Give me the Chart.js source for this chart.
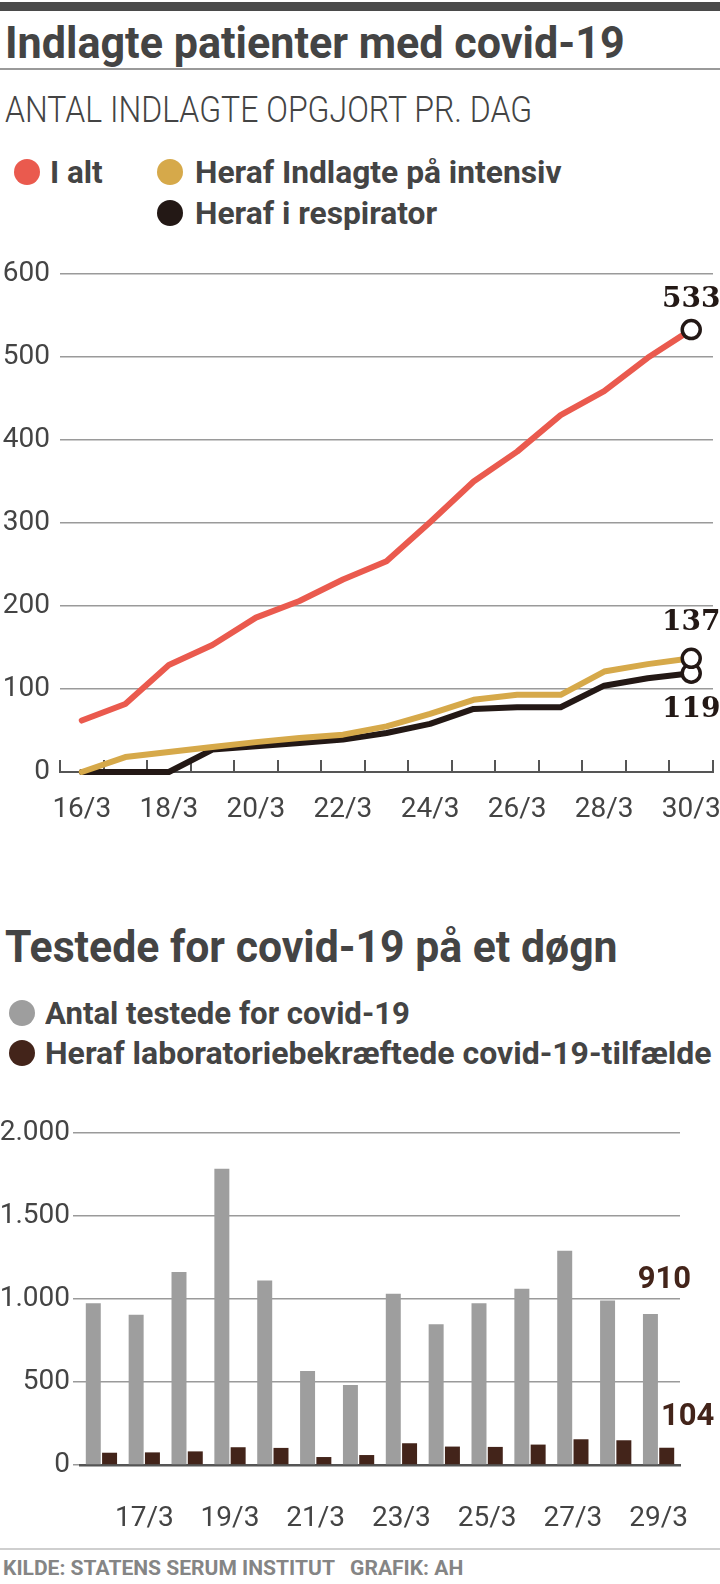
<!DOCTYPE html>
<html>
<head>
<meta charset="utf-8">
<style>
  * { margin: 0; padding: 0; box-sizing: border-box; }
  body {
    width: 720px; height: 1584px; background: #fff; position: relative; overflow: hidden;
    font-family: Roboto, 'DejaVu Sans', sans-serif; color: #444;
  }
  .abs { position: absolute; white-space: nowrap; line-height: 1; transform-origin: 0 50%; }
  .topbar { left: 0; top: 2px; width: 720px; height: 9px; background: #4a4a4a; }
  .title { left: 5px; font-weight: 700; font-size: 44px; }
  .rule { left: 0; width: 720px; height: 2px; background: #9a9a9a; }
  .sub { left: 5px; top: 91px; font-size: 37px; font-weight: 300; }
  .leg { font-weight: 700; font-size: 32px; }
  .dot { position: absolute; width: 26px; height: 26px; border-radius: 50%; }
  .foot { left: 3px; top: 1558px; font-size: 21px; font-weight: 700; color: #858585; }
  canvas { position: absolute; left: 0; }
</style>
</head>
<body>

<div class="abs topbar"></div>
<div class="abs title fit" data-w="620" style="top:21px">Indlagte patienter med covid-19</div>
<div class="abs rule" style="top:68px"></div>
<div class="abs sub fit" data-w="527">ANTAL INDLAGTE OPGJORT PR. DAG</div>

<div class="dot" style="left:14px;top:159px;background:#ea5a4e"></div>
<div class="abs leg fit" data-w="53" style="left:50px;top:156px">I alt</div>
<div class="dot" style="left:157px;top:159px;background:#d6a94a"></div>
<div class="abs leg fit" data-w="367" style="left:195px;top:156px">Heraf Indlagte på intensiv</div>
<div class="dot" style="left:157px;top:200px;background:#231815"></div>
<div class="abs leg fit" data-w="242" style="left:195px;top:197px">Heraf i respirator</div>

<canvas id="lineChart" width="720" height="580" style="top:240px"></canvas>

<div class="abs title fit" data-w="613" style="top:925px">Testede for covid-19 på et døgn</div>
<div class="dot" style="left:9px;top:1000px;background:#9e9e9e"></div>
<div class="abs leg fit" data-w="365" style="left:45px;top:997px">Antal testede for covid-19</div>
<div class="dot" style="left:9px;top:1040px;background:#43241a"></div>
<div class="abs leg fit" data-w="667" style="left:45px;top:1037px">Heraf laboratoriebekræftede covid-19-tilfælde</div>

<canvas id="barChart" width="720" height="450" style="top:1090px"></canvas>

<div class="abs rule" style="top:1548px;background:#cfcfcf"></div>
<div class="abs foot fit" data-w="460">KILDE: STATENS SERUM INSTITUT &nbsp; GRAFIK: AH</div>

<script src="https://cdn.jsdelivr.net/npm/chart.js/dist/chart.umd.min.js"></script>
<script>
// data
const lineDays = ['16/3','17/3','18/3','19/3','20/3','21/3','22/3','23/3','24/3','25/3','26/3','27/3','28/3','29/3','30/3'];
const indlagtIalt = [62, 82, 129, 153, 186, 206, 232, 254, 301, 350, 386, 430, 459, 499, 533];
const indlagtIntensiv = [0, 18, 24, 30, 36, 41, 45, 55, 70, 87, 93, 93, 121, 130, 137];
const indlagtRespirator = [0, 0, 0, 27, 31, 35, 39, 47, 58, 76, 78, 78, 104, 113, 119];
const lineTicks = [0, 100, 200, 300, 400, 500, 600];

const barDays = ['16/3','17/3','18/3','19/3','20/3','21/3','22/3','23/3','24/3','25/3','26/3','27/3','28/3','29/3'];
const testede = [975, 905, 1162, 1785, 1112, 567, 482, 1031, 848, 975, 1061, 1290, 991, 910];
const bekraeftede = [74, 76, 82, 107, 103, 48, 60, 131, 111, 109, 123, 155, 149, 104];
const barTicks = [0, 500, 1000, 1500, 2000];

// squeeze the html texts to the condensed widths of the original
document.querySelectorAll('.fit').forEach(el => {
  el.style.transform = 'scaleX(' + (el.dataset.w / el.offsetWidth) + ')';
});

const axisFont = { family: "Roboto, sans-serif", size: 28 };

// writes the last value of a dataset next to its last mark
const endLabels = {
  id: 'endLabels',
  afterDatasetsDraw(chart, args, opts) {
    const ctx = chart.ctx;
    ctx.save();
    opts.items.forEach(it => {
      const meta = chart.getDatasetMeta(it.ds);
      const el = meta.data[meta.data.length - 1];
      const vals = chart.data.datasets[it.ds].data;
      ctx.font = opts.font;
      ctx.fillStyle = opts.color;
      ctx.textAlign = 'center';
      ctx.textBaseline = 'middle';
      ctx.fillText(String(vals[vals.length - 1]), el.x + (it.dx || 0), el.y + it.dy);
    });
    ctx.restore();
  }
};

function lastOnly(n, v) { return Array.from({ length: n }, (_, i) => i === n - 1 ? v : 0); }
function noPad(s) { s.paddingLeft = 0; s.paddingRight = 0; s.paddingTop = 0; s.paddingBottom = 0; }

new Chart(document.getElementById('lineChart'), {
  type: 'line',
  data: {
    labels: lineDays,
    datasets: [
      { data: indlagtIalt, borderColor: '#ea5a4e' },
      { data: indlagtIntensiv, borderColor: '#d6a94a' },
      { data: indlagtRespirator, borderColor: '#231815' }
    ].map(d => Object.assign(d, {
      borderWidth: 6,
      tension: 0,
      fill: false,
      clip: false,
      borderCapStyle: 'round',
      borderJoinStyle: 'round',
      pointRadius: lastOnly(lineDays.length, 9),
      pointBorderWidth: 3.5,
      pointBorderColor: '#231815',
      pointBackgroundColor: '#ffffff',
      pointHoverRadius: 0
    }))
  },
  options: {
    responsive: false,
    animation: false,
    layout: { autoPadding: false, padding: { top: 34, right: 7, left: 0, bottom: 0 } },
    plugins: {
      legend: { display: false },
      tooltip: { enabled: false },
      endLabels: {
        font: "bold 28px 'DejaVu Serif', serif",
        color: '#231815',
        items: [ { ds: 0, dy: -30 }, { ds: 1, dy: -36 }, { ds: 2, dy: 36 } ]
      }
    },
    scales: {
      x: {
        offset: true,
        afterFit(s) { s.height = 48; noPad(s); },
        grid: { offset: true, drawOnChartArea: false, drawTicks: true, tickLength: -12, color: '#555', lineWidth: 2 },
        border: { display: true, color: '#555', width: 2 },
        ticks: {
          autoSkip: false, maxRotation: 0, padding: 33, color: '#444', font: axisFont,
          callback(v, i) { return i % 2 === 0 ? this.getLabelForValue(v) : ''; }
        }
      },
      y: {
        min: 0, max: 600,
        afterFit(s) { s.width = 60; noPad(s); },
        afterBuildTicks(s) { s.ticks = lineTicks.map(v => ({ value: v })); },
        grid: { drawTicks: false, color: '#9a9a9a', lineWidth: 1.5 },
        border: { display: false },
        ticks: { padding: 10, color: '#444', font: axisFont }
      }
    }
  },
  plugins: [endLabels]
});

new Chart(document.getElementById('barChart'), {
  type: 'bar',
  data: {
    labels: barDays,
    datasets: [
      { data: testede, backgroundColor: '#9e9e9e' },
      { data: bekraeftede, backgroundColor: '#43241a' }
    ].map(d => Object.assign(d, { categoryPercentage: 0.76, barPercentage: 0.92, borderWidth: 0 }))
  },
  options: {
    responsive: false,
    animation: false,
    layout: { autoPadding: false, padding: { top: 43, right: 40, left: 0, bottom: 0 } },
    plugins: {
      legend: { display: false },
      tooltip: { enabled: false },
      endLabels: {
        font: "bold 31px Roboto, sans-serif",
        color: '#43241a',
        items: [ { ds: 0, dy: -34, dx: 14 }, { ds: 1, dy: -30, dx: 21 } ]
      }
    },
    scales: {
      x: {
        afterFit(s) { s.height = 75; noPad(s); },
        grid: { display: false },
        border: { display: true, color: '#555', width: 2.5 },
        ticks: {
          autoSkip: false, maxRotation: 0, padding: 29, color: '#444', font: axisFont,
          callback(v, i) { return i % 2 === 1 ? this.getLabelForValue(v) : ''; }
        }
      },
      y: {
        min: 0, max: 2000,
        afterFit(s) { s.width = 80; noPad(s); },
        afterBuildTicks(s) { s.ticks = barTicks.map(v => ({ value: v })); },
        grid: { drawTicks: true, tickLength: 7, color: '#9a9a9a', lineWidth: 1.5 },
        border: { display: false },
        ticks: {
          padding: 3, color: '#444', font: axisFont,
          callback(v) { return String(v).replace(/\B(?=(\d{3})+(?!\d))/g, '.'); }
        }
      }
    }
  },
  plugins: [endLabels]
});
</script>
</body>
</html>
